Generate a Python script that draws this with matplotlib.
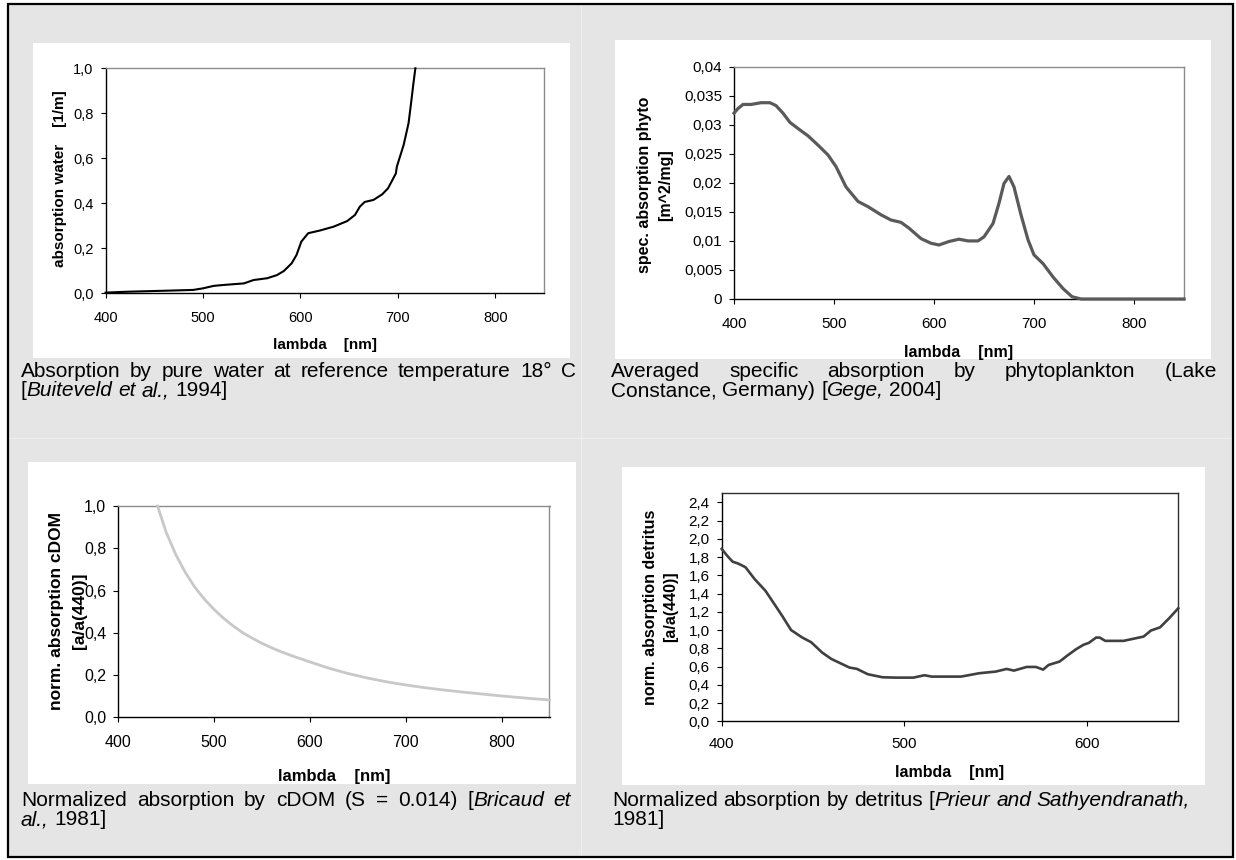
import matplotlib
matplotlib.use('Agg')
import matplotlib.pyplot as plt
from matplotlib.patches import Rectangle
from matplotlib.lines import Line2D

plt.rcParams['font.family'] = ['Liberation Sans', 'DejaVu Sans']

# ---------------- data ----------------
water_wl = [400, 422, 466, 490, 500, 511, 521, 542, 552, 566, 576, 583, 591, 596, 601,
            608, 620, 634, 648, 656, 661, 666, 675, 684, 690, 698, 699, 706, 711, 714, 716, 718]
water_abs = [0.003, 0.007, 0.012, 0.015, 0.022, 0.033, 0.037, 0.044, 0.059, 0.067, 0.081,
             0.099, 0.133, 0.17, 0.23, 0.267, 0.279, 0.296, 0.321, 0.348, 0.385, 0.406,
             0.415, 0.44, 0.467, 0.533, 0.563, 0.66, 0.756, 0.86, 0.933, 1.0]

phyto_wl = [400, 404, 409, 417, 427, 436, 442, 449, 456, 466, 474, 484, 494, 502, 512, 524,
            534, 547, 557, 567, 575, 587, 597, 605, 615, 625, 634, 644, 650, 659, 665, 670,
            675, 680, 687, 694, 700, 709, 719, 729, 738, 747, 850]
phyto_abs = [0.0320, 0.0328, 0.0335, 0.0335, 0.0338, 0.0338, 0.0333, 0.0320, 0.0304, 0.0291,
             0.0281, 0.0265, 0.0248, 0.0228, 0.0193, 0.0168, 0.0159, 0.0145, 0.0136, 0.0132,
             0.0122, 0.0104, 0.0096, 0.0093, 0.0099, 0.0103, 0.0100, 0.0100, 0.0107, 0.0130,
             0.0165, 0.0199, 0.0211, 0.0193, 0.0145, 0.0102, 0.0076, 0.0061, 0.0038, 0.0018,
             0.0004, 0.0, 0.0]

cdom_wl = [441, 450, 460, 470, 480, 490, 500, 510, 520, 530, 540, 550, 560, 570, 580, 600,
           620, 640, 660, 680, 700, 720, 740, 760, 780, 800, 825, 850]
cdom_abs = [1.0, 0.875, 0.77, 0.685, 0.615, 0.558, 0.51, 0.468, 0.432, 0.40, 0.374, 0.35,
            0.329, 0.31, 0.293, 0.262, 0.232, 0.207, 0.186, 0.168, 0.153, 0.140, 0.129,
            0.119, 0.110, 0.101, 0.091, 0.082]

detr_wl = [400, 403, 406, 409, 413, 418, 424, 428, 433, 438, 444, 449, 455, 460, 470, 474,
           480, 488, 495, 505, 511, 515, 531, 541, 550, 556, 560, 567, 572, 576, 579, 585,
           589, 594, 598, 601, 605, 607, 610, 620, 631, 635, 640, 645, 650]
detr_abs = [1.89, 1.815, 1.75, 1.73, 1.69, 1.56, 1.43, 1.31, 1.16, 1.00, 0.92, 0.867, 0.754,
            0.684, 0.589, 0.575, 0.516, 0.483, 0.479, 0.479, 0.505, 0.49, 0.49, 0.527, 0.545,
            0.574, 0.556, 0.596, 0.596, 0.567, 0.618, 0.655, 0.717, 0.79, 0.838, 0.86, 0.918,
            0.918, 0.882, 0.882, 0.929, 0.995, 1.03, 1.13, 1.24]

xticks_wide = [400, 500, 600, 700, 800]
xticks_detr = [400, 500, 600]
yticks_unit = [0.0, 0.2, 0.4, 0.6, 0.8, 1.0]
ylabels_unit = ['0,0', '0,2', '0,4', '0,6', '0,8', '1,0']
yticks_phyto = [0, 0.005, 0.01, 0.015, 0.02, 0.025, 0.03, 0.035, 0.04]
ylabels_phyto = ['0', '0,005', '0,01', '0,015', '0,02', '0,025', '0,03', '0,035', '0,04']
yticks_detr = [0.0, 0.2, 0.4, 0.6, 0.8, 1.0, 1.2, 1.4, 1.6, 1.8, 2.0, 2.2, 2.4]
ylabels_detr = ['0,0', '0,2', '0,4', '0,6', '0,8', '1,0', '1,2', '1,4', '1,6', '1,8',
                '2,0', '2,2', '2,4']

# ---------------- figure ----------------
W, H = 1236, 860
fig = plt.figure(figsize=(W / 100, H / 100), dpi=100)
fig.patch.set_facecolor('white')


def fx(x):
    return x / W


def fy(y):
    return 1 - y / H


def rect(x0, y0, x1, y1, fc, ec='none', lw=0, z=-10):
    r = Rectangle((fx(x0), fy(y1)), (x1 - x0) / W, (y1 - y0) / H, transform=fig.transFigure,
                  facecolor=fc, edgecolor=ec, linewidth=lw, zorder=z)
    fig.add_artist(r)


def hline(x0, x1, y, c, lw=0.7, z=-8):
    fig.add_artist(Line2D([fx(x0), fx(x1)], [fy(y), fy(y)], transform=fig.transFigure,
                          color=c, lw=lw, zorder=z))


def vline(x, y0, y1, c, lw=0.7, z=-8):
    fig.add_artist(Line2D([fx(x), fx(x)], [fy(y0), fy(y1)], transform=fig.transFigure,
                          color=c, lw=lw, zorder=z))


# background cells
rect(8, 4, 1233, 857, '#e5e5e5', z=-10)
vline(581, 5, 856, '#efefef')
hline(9, 1232, 438, '#efefef')
# white chart areas
rect(33, 43, 570, 358, 'white', z=-7)
rect(615, 40, 1211, 359, 'white', z=-7)
rect(28, 462, 576, 784, 'white', z=-7)
rect(622, 467, 1205, 785, 'white', z=-7)
# outer border
rect(8, 4, 1233, 857, 'none', ec='black', lw=1.6, z=20)


def make_ax(box, xlim, ylim, xticks, yticks, ylabels, tsize, tr_color, xpad):
    x0, y0, x1, y1 = box
    ax = fig.add_axes([fx(x0), fy(y1), (x1 - x0) / W, (y1 - y0) / H])
    ax.set_xlim(*xlim)
    ax.set_ylim(*ylim)
    ax.set_xticks(xticks)
    ax.set_xticklabels([str(v) for v in xticks])
    ax.set_yticks(yticks)
    ax.set_yticklabels(ylabels)
    ax.tick_params(axis='both', direction='out', length=3.6, width=0.8, color='black',
                   labelsize=tsize)
    ax.tick_params(axis='x', pad=xpad)
    ax.tick_params(axis='y', pad=5)
    for s in ['left', 'bottom']:
        ax.spines[s].set_color('black')
        ax.spines[s].set_linewidth(1.0)
    for s in ['top', 'right']:
        ax.spines[s].set_color(tr_color)
        ax.spines[s].set_linewidth(1.0)
    ax.set_facecolor('white')
    return ax


# panel 1: water
ax1 = make_ax((105.5, 68.3, 544, 293.3), (400, 850), (0, 1.0), xticks_wide, yticks_unit,
              ylabels_unit, 10.5, '#8c8c8c', 9)
ax1.plot(water_wl, water_abs, color='black', lw=1.5, clip_on=False, zorder=5)

# panel 2: phyto
ax2 = make_ax((734, 66.7, 1184, 299), (400, 850), (0, 0.04), xticks_wide, yticks_phyto,
              ylabels_phyto, 11, '#8c8c8c', 9)
ax2.plot(phyto_wl, phyto_abs, color='#5a5a5a', lw=2.3, clip_on=False, zorder=5,
         solid_joinstyle='round')

# panel 3: cDOM
ax3 = make_ax((118.3, 506, 549.5, 717.3), (400, 850), (0, 1.0), xticks_wide, yticks_unit,
              ylabels_unit, 11.5, '#8c8c8c', 9.5)
ax3.plot(cdom_wl, cdom_abs, color='#c8c8c8', lw=2.0, clip_on=False, zorder=5)

# panel 4: detritus
ax4 = make_ax((721.7, 493.3, 1178.3, 721.3), (400, 650), (0, 2.5), xticks_detr, yticks_detr,
              ylabels_detr, 11, '#303030', 7.5)
ax4.plot(detr_wl, detr_abs, color='#404040', lw=1.9, clip_on=False, zorder=5)


# axis labels
def ylab(x, y, s, size):
    fig.text(fx(x), fy(y), s, rotation=90, ha='center', va='center', fontsize=size,
             fontweight='bold')


def xlab(x, y, s, size):
    fig.text(fx(x), fy(y), s, ha='center', va='center', fontsize=size, fontweight='bold')


ylab(60, 179, 'absorption water    [1/m]', 11)
xlab(325, 345, 'lambda    [nm]', 11)
ylab(644, 185, 'spec. absorption phyto', 11.5)
ylab(666, 185, '[m^2/mg]', 11.5)
xlab(959, 352, 'lambda    [nm]', 11.5)
ylab(56, 611, 'norm. absorption cDOM', 12.5)
ylab(79, 611, '[a/a(440)]', 12.5)
xlab(334, 777, 'lambda    [nm]', 12)
ylab(651, 607, 'norm. absorption detritus', 11.5)
ylab(671, 607, '[a/a(440)]', 11.5)
xlab(950, 773, 'lambda    [nm]', 11.5)

# captions
renderer = fig.canvas.get_renderer()
CAP = 15


def cap_line(words, x0, y, x1=None, size=CAP):
    items = []
    widths = []
    for word in words:
        pieces = []
        for s, it in word:
            t = fig.text(0, fy(y), s, fontsize=size, style='italic' if it else 'normal',
                         ha='left', va='baseline', color='black')
            pieces.append(t)
        ws = [t.get_window_extent(renderer).width for t in pieces]
        items.append((pieces, ws))
        widths.append(sum(ws))
    space = 0.278 * size * 100 / 72
    n = len(words)
    gap = (x1 - x0 - sum(widths)) / (n - 1) if (x1 is not None and n > 1) else space
    x = x0
    for pieces, ws in items:
        for t, w in zip(pieces, ws):
            t.set_x(fx(x))
            x += w
        x += gap


def words(s, italic=False):
    return [[(w, italic)] for w in s.split()]


cap_line(words('Absorption by pure water at reference temperature 18°') + [[('C', False)]],
         21, 377, 576)
cap_line([[('[', False), ('Buiteveld', True)], [('et', True)], [('al.,', True)],
          [('1994]', False)]], 21, 396)

cap_line(words('Averaged specific absorption by phytoplankton (Lake'), 611, 377, 1217)
cap_line(words('Constance, Germany)') + [[('[', False), ('Gege,', True)], [('2004]', False)]],
         611, 396)

cap_line(words('Normalized absorption by cDOM (S = 0.014)') +
         [[('[', False), ('Bricaud', True)], [('et', True)]], 21, 806, 571)
cap_line([[('al.,', True)], [('1981]', False)]], 21, 825)

cap_line(words('Normalized absorption by detritus') +
         [[('[', False), ('Prieur', True)], [('and', True)], [('Sathyendranath,', True)]],
         612, 806)
cap_line([[('1981]', False)]], 612, 825)

fig.savefig('out.png', dpi=100, facecolor='white')
